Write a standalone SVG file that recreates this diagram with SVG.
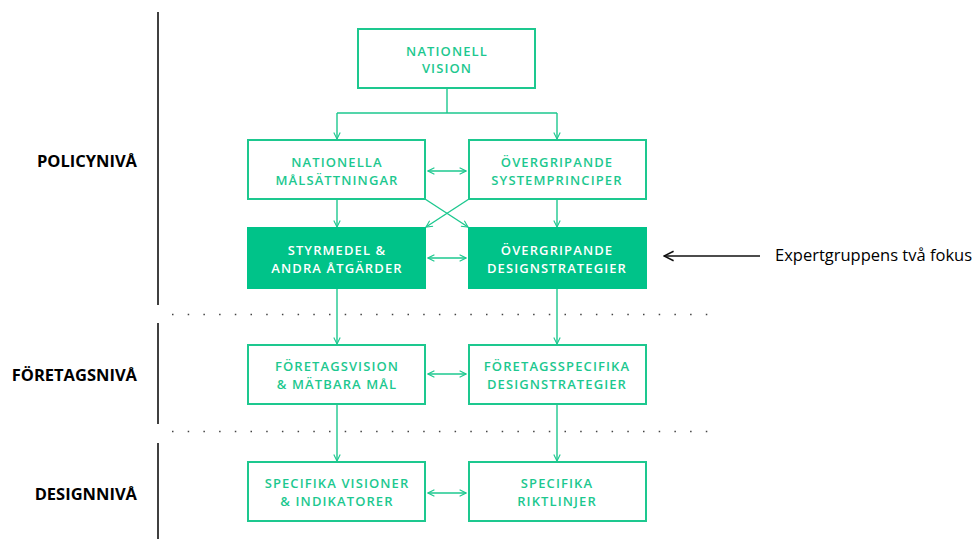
<svg xmlns="http://www.w3.org/2000/svg" width="976" height="539" viewBox="0 0 976 539">
<defs>
<marker id="ah" viewBox="0 0 10 10" refX="9" refY="5" markerWidth="8" markerHeight="8" markerUnits="userSpaceOnUse" orient="auto-start-reverse">
<path d="M1,1 L9,5 L1,9" fill="none" stroke="#1DC88F" stroke-width="1.4"/>
</marker>
<marker id="ahk" viewBox="0 0 10 10" refX="9" refY="5" markerWidth="12" markerHeight="12" markerUnits="userSpaceOnUse" orient="auto">
<path d="M1,1 L9,5 L1,9" fill="none" stroke="#111" stroke-width="1.3"/>
</marker>
</defs>
<style>
.box{fill:#fff;stroke:#1DC88F;stroke-width:2}
.fbox{fill:#00C389;stroke:#00C389;stroke-width:2}
.bt{font-family:"Open Sans","Noto Sans",sans-serif;font-weight:600;font-size:13px;letter-spacing:1.1px;fill:#1DC88F;text-anchor:middle}
.ft{fill:#fff}
.lvl{font-family:"Open Sans","Noto Sans",sans-serif;font-weight:700;font-size:16.5px;fill:#000;text-anchor:end}
.c{fill:none;stroke:#1DC88F;stroke-width:1.4}
.dot{stroke:#444;stroke-width:1.5;stroke-dasharray:1.5 14.2}
.vl{stroke:#000;stroke-width:1.5}
</style>
<g id="levels">
<line class="vl" x1="158" y1="12" x2="158" y2="305"/>
<line class="vl" x1="158" y1="323" x2="158" y2="424"/>
<line class="vl" x1="158" y1="443" x2="158" y2="539"/>
<line class="dot" x1="172" y1="314.5" x2="710" y2="314.5"/>
<line class="dot" x1="172" y1="431.5" x2="710" y2="431.5"/>
<text class="lvl" x="137" y="167">POLICYNIVÅ</text>
<text class="lvl" x="137" y="381">FÖRETAGSNIVÅ</text>
<text class="lvl" x="137" y="500">DESIGNNIVÅ</text>
</g>
<g id="connectors">
<path class="c" d="M447,88 V113 M337,113 H557"/>
<path class="c" d="M337,113 V139" marker-end="url(#ah)"/>
<path class="c" d="M557,113 V139" marker-end="url(#ah)"/>
<path class="c" d="M337,199 V227" marker-end="url(#ah)"/>
<path class="c" d="M557,199 V227" marker-end="url(#ah)"/>
<path class="c" d="M425,199 L468,227" marker-end="url(#ah)"/>
<path class="c" d="M469,199 L426,227" marker-end="url(#ah)"/>
<path class="c" d="M337,288 V344" marker-end="url(#ah)"/>
<path class="c" d="M557,288 V344" marker-end="url(#ah)"/>
<path class="c" d="M337,404 V461" marker-end="url(#ah)"/>
<path class="c" d="M557,404 V461" marker-end="url(#ah)"/>
<path class="c" d="M428,171 H466" marker-start="url(#ah)" marker-end="url(#ah)"/>
<path class="c" d="M428,258 H466" marker-start="url(#ah)" marker-end="url(#ah)"/>
<path class="c" d="M428,374 H466" marker-start="url(#ah)" marker-end="url(#ah)"/>
<path class="c" d="M428,493 H466" marker-start="url(#ah)" marker-end="url(#ah)"/>
<path d="M760,256 H664" stroke="#111" stroke-width="1.5" fill="none" marker-end="url(#ahk)"/>
</g>
<g id="n-vision">
<rect class="box" x="358" y="29" width="177" height="59"/>
<text class="bt" x="447" y="56">NATIONELL</text>
<text class="bt" x="447" y="73">VISION</text>
</g>
<g id="n-malsattningar">
<rect class="box" x="248" y="140" width="177" height="59"/>
<text class="bt" x="337" y="167">NATIONELLA</text>
<text class="bt" x="337" y="185">MÅLSÄTTNINGAR</text>
</g>
<g id="n-systemprinciper">
<rect class="box" x="469" y="140" width="177" height="59"/>
<text class="bt" x="557" y="167">ÖVERGRIPANDE</text>
<text class="bt" x="557" y="185">SYSTEMPRINCIPER</text>
</g>
<g id="n-styrmedel">
<rect class="fbox" x="248" y="228" width="177" height="60"/>
<text class="bt ft" x="337" y="255">STYRMEDEL &amp;</text>
<text class="bt ft" x="337" y="273">ANDRA ÅTGÄRDER</text>
</g>
<g id="n-designstrategier">
<rect class="fbox" x="469" y="228" width="177" height="60"/>
<text class="bt ft" x="557" y="255">ÖVERGRIPANDE</text>
<text class="bt ft" x="557" y="273">DESIGNSTRATEGIER</text>
</g>
<g id="n-foretagsvision">
<rect class="box" x="248" y="345" width="177" height="59"/>
<text class="bt" x="337" y="371">FÖRETAGSVISION</text>
<text class="bt" x="337" y="389">&amp; MÄTBARA MÅL</text>
</g>
<g id="n-foretagsspecifika">
<rect class="box" x="469" y="345" width="177" height="59"/>
<text class="bt" x="557" y="371">FÖRETAGSSPECIFIKA</text>
<text class="bt" x="557" y="389">DESIGNSTRATEGIER</text>
</g>
<g id="n-specifika-visioner">
<rect class="box" x="248" y="462" width="177" height="59"/>
<text class="bt" x="337" y="488">SPECIFIKA VISIONER</text>
<text class="bt" x="337" y="506">&amp; INDIKATORER</text>
</g>
<g id="n-riktlinjer">
<rect class="box" x="469" y="462" width="177" height="59"/>
<text class="bt" x="557" y="488">SPECIFIKA</text>
<text class="bt" x="557" y="506">RIKTLINJER</text>
</g>
<g id="focus-label">
<text x="775" y="261" font-family="'Open Sans','Noto Sans',sans-serif" font-size="16.5" fill="#000">Expertgruppens två fokus</text>
</g>
</svg>
